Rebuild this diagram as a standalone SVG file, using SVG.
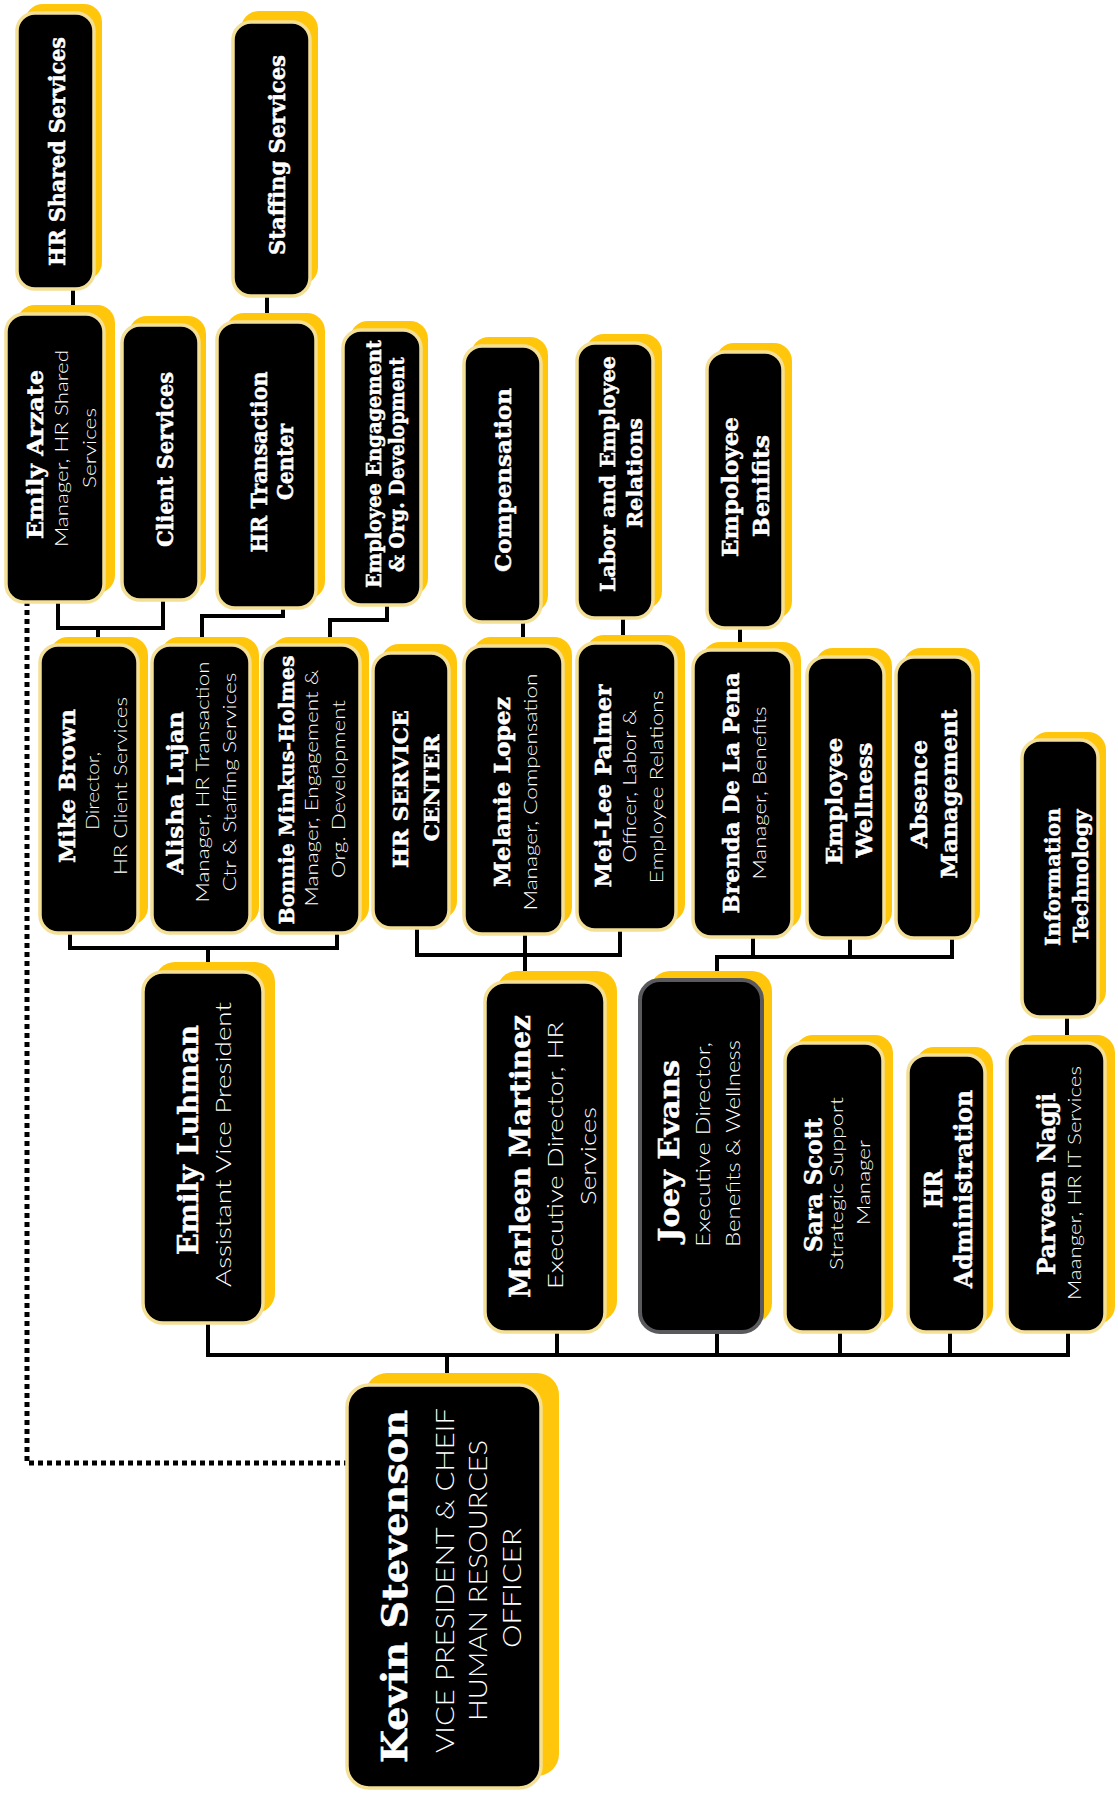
<svg xmlns="http://www.w3.org/2000/svg" width="1118" height="1794" viewBox="0 0 1118 1794">
<style>
.sh{fill:#FFC60B}
.bx{fill:#000;stroke:#F3DF95;stroke-width:3.5}
.gb{fill:#000;stroke:#5A5A5E;stroke-width:4}
.b{font-family:"DejaVu Serif","Liberation Serif",serif;font-weight:bold;fill:#fff;stroke:#fff;stroke-width:0.5;text-anchor:middle}
.l{font-family:Lato,"Open Sans","Liberation Sans",sans-serif;font-weight:300;fill:#fff;text-anchor:middle}
.c{fill:none;stroke:#000;stroke-width:4}
.d{fill:none;stroke:#000;stroke-width:5;stroke-dasharray:5 4}
</style>
<rect width="1118" height="1794" fill="#fff"/>
<g id="connectors">
<path class="c" d="M73,289V314"/>
<path class="c" d="M267,296V322"/>
<path class="c" d="M58,602V628H163V600M98,628V645"/>
<path class="c" d="M283,608V616H202V645"/>
<path class="c" d="M387,605V620H330V645"/>
<path class="c" d="M523,622V646"/>
<path class="c" d="M623,618V643"/>
<path class="c" d="M740,628V650"/>
<path class="c" d="M70,933V948H337V933M208,948V972"/>
<path class="c" d="M417,928V955H620V930M525,934V982"/>
<path class="c" d="M717,980V957H952V938M753,937V957M850,938V957"/>
<path class="c" d="M1067,1017V1043"/>
<path class="c" d="M208,1323V1355H1068V1332M557,1332V1355M717,1332V1355M840,1332V1355M950,1332V1355M447,1355V1385"/>
<path class="d" d="M27,601V1463H347"/>
</g>
<g id="n-hr-shared-services">
<rect class="sh" x="25" y="4" width="77" height="276" rx="18"/>
<rect class="bx" x="17" y="13" width="77" height="276" rx="18"/>
<text class="b" font-size="22" textLength="229" lengthAdjust="spacingAndGlyphs" transform="translate(65,151.5) rotate(-90)">HR Shared Services</text>
</g>
<g id="n-staffing-services">
<rect class="sh" x="241" y="11" width="77" height="274" rx="18"/>
<rect class="bx" x="233" y="22" width="77" height="274" rx="18"/>
<text class="b" font-size="22" textLength="200" lengthAdjust="spacingAndGlyphs" transform="translate(285,155) rotate(-90)">Staffing Services</text>
</g>
<g id="n-emily-arzate">
<rect class="sh" x="17" y="305" width="98" height="288" rx="18"/>
<rect class="bx" x="6" y="314" width="98" height="288" rx="18"/>
<text class="b" font-size="23" textLength="169" lengthAdjust="spacingAndGlyphs" transform="translate(43,454.5) rotate(-90)">Emily Arzate</text>
<text class="l" font-size="17" textLength="197" lengthAdjust="spacingAndGlyphs" transform="translate(68,448.5) rotate(-90)">Manager, HR Shared</text>
<text class="l" font-size="17" textLength="80" lengthAdjust="spacingAndGlyphs" transform="translate(96,448) rotate(-90)">Services</text>
</g>
<g id="n-client-services">
<rect class="sh" x="129" y="316" width="77" height="275" rx="18"/>
<rect class="bx" x="122" y="325" width="77" height="275" rx="18"/>
<text class="b" font-size="22" textLength="175" lengthAdjust="spacingAndGlyphs" transform="translate(173,459.5) rotate(-90)">Client Services</text>
</g>
<g id="n-hr-transaction-center">
<rect class="sh" x="226" y="313" width="99" height="286" rx="18"/>
<rect class="bx" x="217" y="322" width="99" height="286" rx="18"/>
<text class="b" font-size="22" textLength="181" lengthAdjust="spacingAndGlyphs" transform="translate(267,462) rotate(-90)">HR Transaction</text>
<text class="b" font-size="22" textLength="76" lengthAdjust="spacingAndGlyphs" transform="translate(293,462) rotate(-90)">Center</text>
</g>
<g id="n-employee-engagement">
<rect class="sh" x="350" y="321" width="78" height="275" rx="18"/>
<rect class="bx" x="343" y="330" width="78" height="275" rx="18"/>
<text class="b" font-size="20" textLength="248" lengthAdjust="spacingAndGlyphs" transform="translate(381,464) rotate(-90)">Employee Engagement</text>
<text class="b" font-size="20" textLength="215" lengthAdjust="spacingAndGlyphs" transform="translate(404,464.5) rotate(-90)">&amp; Org. Development</text>
</g>
<g id="n-compensation">
<rect class="sh" x="471" y="337" width="77" height="276" rx="18"/>
<rect class="bx" x="464" y="346" width="77" height="276" rx="18"/>
<text class="b" font-size="22" textLength="184" lengthAdjust="spacingAndGlyphs" transform="translate(511,480) rotate(-90)">Compensation</text>
</g>
<g id="n-labor-employee-relations">
<rect class="sh" x="586" y="334" width="76" height="275" rx="18"/>
<rect class="bx" x="577" y="343" width="76" height="275" rx="18"/>
<text class="b" font-size="21" textLength="236" lengthAdjust="spacingAndGlyphs" transform="translate(615,474) rotate(-90)">Labor and Employee</text>
<text class="b" font-size="21" textLength="110" lengthAdjust="spacingAndGlyphs" transform="translate(642,473) rotate(-90)">Relations</text>
</g>
<g id="n-employee-benefits">
<rect class="sh" x="716" y="343" width="76" height="276" rx="18"/>
<rect class="bx" x="707" y="352" width="76" height="276" rx="18"/>
<text class="b" font-size="22" textLength="140" lengthAdjust="spacingAndGlyphs" transform="translate(738,487) rotate(-90)">Empoloyee</text>
<text class="b" font-size="22" textLength="102" lengthAdjust="spacingAndGlyphs" transform="translate(769,486) rotate(-90)">Benifits</text>
</g>
<g id="n-mike-brown">
<rect class="sh" x="50" y="637" width="98" height="288" rx="18"/>
<rect class="bx" x="40" y="645" width="98" height="288" rx="18"/>
<text class="b" font-size="22" textLength="154" lengthAdjust="spacingAndGlyphs" transform="translate(75,786) rotate(-90)">Mike Brown</text>
<text class="l" font-size="17" textLength="78" lengthAdjust="spacingAndGlyphs" transform="translate(99,791) rotate(-90)">Director,</text>
<text class="l" font-size="17" textLength="178" lengthAdjust="spacingAndGlyphs" transform="translate(127,786) rotate(-90)">HR Client Services</text>
</g>
<g id="n-alisha-lujan">
<rect class="sh" x="161" y="637" width="98" height="288" rx="18"/>
<rect class="bx" x="152" y="645" width="98" height="288" rx="18"/>
<text class="b" font-size="22" textLength="163" lengthAdjust="spacingAndGlyphs" transform="translate(183,793) rotate(-90)">Alisha Lujan</text>
<text class="l" font-size="17" textLength="241" lengthAdjust="spacingAndGlyphs" transform="translate(209,782) rotate(-90)">Manager, HR Transaction</text>
<text class="l" font-size="17" textLength="219" lengthAdjust="spacingAndGlyphs" transform="translate(236,782) rotate(-90)">Ctr &amp; Staffing Services</text>
</g>
<g id="n-bonnie-minkus-holmes">
<rect class="sh" x="271" y="637" width="98" height="288" rx="18"/>
<rect class="bx" x="262" y="645" width="98" height="288" rx="18"/>
<text class="b" font-size="21" textLength="269" lengthAdjust="spacingAndGlyphs" transform="translate(294,790) rotate(-90)">Bonnie Minkus-Holmes</text>
<text class="l" font-size="17" textLength="237" lengthAdjust="spacingAndGlyphs" transform="translate(318,788) rotate(-90)">Manager, Engagement &amp;</text>
<text class="l" font-size="17" textLength="178" lengthAdjust="spacingAndGlyphs" transform="translate(345,789) rotate(-90)">Org. Development</text>
</g>
<g id="n-hr-service-center">
<rect class="sh" x="381" y="644" width="76" height="275" rx="18"/>
<rect class="bx" x="373" y="653" width="76" height="275" rx="18"/>
<text class="b" font-size="21" textLength="158" lengthAdjust="spacingAndGlyphs" transform="translate(408,789) rotate(-90)">HR SERVICE</text>
<text class="b" font-size="21" textLength="107" lengthAdjust="spacingAndGlyphs" transform="translate(439,788) rotate(-90)">CENTER</text>
</g>
<g id="n-melanie-lopez">
<rect class="sh" x="473" y="637" width="99" height="288" rx="18"/>
<rect class="bx" x="464" y="646" width="99" height="288" rx="18"/>
<text class="b" font-size="22" textLength="190" lengthAdjust="spacingAndGlyphs" transform="translate(510,792) rotate(-90)">Melanie Lopez</text>
<text class="l" font-size="17" textLength="237" lengthAdjust="spacingAndGlyphs" transform="translate(537,792) rotate(-90)">Manager, Compensation</text>
</g>
<g id="n-mei-lee-palmer">
<rect class="sh" x="586" y="635" width="99" height="287" rx="18"/>
<rect class="bx" x="577" y="643" width="99" height="287" rx="18"/>
<text class="b" font-size="22" textLength="203" lengthAdjust="spacingAndGlyphs" transform="translate(611,786) rotate(-90)">Mei-Lee Palmer</text>
<text class="l" font-size="17" textLength="153" lengthAdjust="spacingAndGlyphs" transform="translate(636,786) rotate(-90)">Officer, Labor &amp;</text>
<text class="l" font-size="17" textLength="193" lengthAdjust="spacingAndGlyphs" transform="translate(663,787) rotate(-90)">Employee Relations</text>
</g>
<g id="n-brenda-de-la-pena">
<rect class="sh" x="702" y="642" width="99" height="287" rx="18"/>
<rect class="bx" x="693" y="650" width="99" height="287" rx="18"/>
<text class="b" font-size="22" textLength="241" lengthAdjust="spacingAndGlyphs" transform="translate(739,793) rotate(-90)">Brenda De La Pena</text>
<text class="l" font-size="17" textLength="173" lengthAdjust="spacingAndGlyphs" transform="translate(766,793) rotate(-90)">Manager, Benefits</text>
</g>
<g id="n-employee-wellness">
<rect class="sh" x="815" y="648" width="77" height="281" rx="18"/>
<rect class="bx" x="807" y="657" width="77" height="281" rx="18"/>
<text class="b" font-size="22" textLength="127" lengthAdjust="spacingAndGlyphs" transform="translate(842,801) rotate(-90)">Employee</text>
<text class="b" font-size="22" textLength="115" lengthAdjust="spacingAndGlyphs" transform="translate(872,800) rotate(-90)">Wellness</text>
</g>
<g id="n-absence-management">
<rect class="sh" x="903" y="648" width="77" height="281" rx="18"/>
<rect class="bx" x="896" y="657" width="77" height="281" rx="18"/>
<text class="b" font-size="22" textLength="108" lengthAdjust="spacingAndGlyphs" transform="translate(927,794) rotate(-90)">Absence</text>
<text class="b" font-size="22" textLength="169" lengthAdjust="spacingAndGlyphs" transform="translate(957,794) rotate(-90)">Management</text>
</g>
<g id="n-information-technology">
<rect class="sh" x="1030" y="732" width="76" height="277" rx="18"/>
<rect class="bx" x="1022" y="740" width="76" height="277" rx="18"/>
<text class="b" font-size="20" textLength="138" lengthAdjust="spacingAndGlyphs" transform="translate(1060,877) rotate(-90)">Information</text>
<text class="b" font-size="20" textLength="133" lengthAdjust="spacingAndGlyphs" transform="translate(1088,876) rotate(-90)">Technology</text>
</g>
<g id="n-emily-luhman">
<rect class="sh" x="155" y="962" width="120" height="351" rx="20"/>
<rect class="bx" x="143" y="972" width="120" height="351" rx="20"/>
<text class="b" font-size="28" textLength="230" lengthAdjust="spacingAndGlyphs" transform="translate(198,1140) rotate(-90)">Emily Luhman</text>
<text class="l" font-size="21" textLength="285" lengthAdjust="spacingAndGlyphs" transform="translate(231,1144.5) rotate(-90)">Assistant Vice President</text>
</g>
<g id="n-marleen-martinez">
<rect class="sh" x="497" y="971" width="120" height="350" rx="20"/>
<rect class="bx" x="485" y="982" width="120" height="350" rx="20"/>
<text class="b" font-size="28" textLength="283" lengthAdjust="spacingAndGlyphs" transform="translate(530,1156.5) rotate(-90)">Marleen Martinez</text>
<text class="l" font-size="21" textLength="267" lengthAdjust="spacingAndGlyphs" transform="translate(563,1155.5) rotate(-90)">Executive Director, HR</text>
<text class="l" font-size="21" textLength="98" lengthAdjust="spacingAndGlyphs" transform="translate(596,1156) rotate(-90)">Services</text>
</g>
<g id="n-joey-evans">
<rect class="sh" x="650" y="971" width="122" height="352" rx="20"/>
<rect class="gb" x="640" y="980" width="122" height="352" rx="20"/>
<text class="b" font-size="28" textLength="182" lengthAdjust="spacingAndGlyphs" transform="translate(679,1151) rotate(-90)">Joey Evans</text>
<text class="l" font-size="20" textLength="205" lengthAdjust="spacingAndGlyphs" transform="translate(710,1144.5) rotate(-90)">Executive Director,</text>
<text class="l" font-size="20" textLength="207" lengthAdjust="spacingAndGlyphs" transform="translate(740,1143.5) rotate(-90)">Benefits &amp; Wellness</text>
</g>
<g id="n-sara-scott">
<rect class="sh" x="795" y="1035" width="98" height="289" rx="18"/>
<rect class="bx" x="785" y="1043" width="98" height="289" rx="18"/>
<text class="b" font-size="24" textLength="134" lengthAdjust="spacingAndGlyphs" transform="translate(822,1185) rotate(-90)">Sara Scott</text>
<text class="l" font-size="17" textLength="173" lengthAdjust="spacingAndGlyphs" transform="translate(843,1183.5) rotate(-90)">Strategic Support</text>
<text class="l" font-size="17" textLength="85" lengthAdjust="spacingAndGlyphs" transform="translate(870,1182.5) rotate(-90)">Manager</text>
</g>
<g id="n-hr-administration">
<rect class="sh" x="916" y="1047" width="77" height="277" rx="18"/>
<rect class="bx" x="908" y="1055" width="77" height="277" rx="18"/>
<text class="b" font-size="24" textLength="38" lengthAdjust="spacingAndGlyphs" transform="translate(942,1189) rotate(-90)">HR</text>
<text class="b" font-size="24" textLength="198" lengthAdjust="spacingAndGlyphs" transform="translate(972,1189) rotate(-90)">Administration</text>
</g>
<g id="n-parveen-nagji">
<rect class="sh" x="1017" y="1035" width="98" height="289" rx="18"/>
<rect class="bx" x="1007" y="1043" width="98" height="289" rx="18"/>
<text class="b" font-size="24" textLength="182" lengthAdjust="spacingAndGlyphs" transform="translate(1055,1184) rotate(-90)">Parveen Nagji</text>
<text class="l" font-size="17" textLength="234" lengthAdjust="spacingAndGlyphs" transform="translate(1081,1183) rotate(-90)">Maanger, HR IT Services</text>
</g>
<g id="n-kevin-stevenson">
<rect class="sh" x="365" y="1373" width="194" height="403" rx="22"/>
<rect class="bx" x="347" y="1385" width="194" height="403" rx="22"/>
<text class="b" font-size="36" textLength="353" lengthAdjust="spacingAndGlyphs" transform="translate(407,1586.5) rotate(-90)">Kevin Stevenson</text>
<text class="l" font-size="26" textLength="345" lengthAdjust="spacingAndGlyphs" transform="translate(454,1580.5) rotate(-90)">VICE PRESIDENT &amp; CHEIF</text>
<text class="l" font-size="26" textLength="281" lengthAdjust="spacingAndGlyphs" transform="translate(487,1580.5) rotate(-90)">HUMAN RESOURCES</text>
<text class="l" font-size="26" textLength="120" lengthAdjust="spacingAndGlyphs" transform="translate(521,1588) rotate(-90)">OFFICER</text>
</g>
</svg>
